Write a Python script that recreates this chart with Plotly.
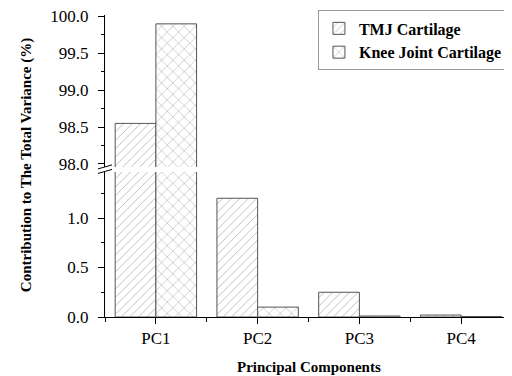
import plotly.graph_objects as go

categories = ["PC1", "PC2", "PC3", "PC4"]
tmj = [98.55, 1.2, 0.25, 0.02]
knee = [99.9, 0.1, 0.01, 0.005]
series_names = ["TMJ Cartilage", "Knee Joint Cartilage"]

xpos = list(range(len(categories)))
FONT = "Liberation Serif, Times New Roman, serif"

fig = go.Figure()

def add_bars(vals, name, shape, size, offset, yaxis, show):
    fig.add_trace(go.Bar(
        x=xpos, y=vals, name=name, width=0.4, offset=offset,
        xaxis="x", yaxis=yaxis, showlegend=show, legendgroup=name,
        marker=dict(color="white", line=dict(color="#555555", width=1),
                    pattern=dict(shape=shape, size=size, solidity=0.15,
                                 fgcolor="#707070", bgcolor="white")),
    ))

add_bars(tmj, series_names[0], "/", 6, -0.4, "y", True)
add_bars(knee, series_names[1], "x", 8, 0.0, "y", True)
add_bars(tmj, series_names[0], "/", 6, -0.4, "y2", False)
add_bars(knee, series_names[1], "x", 8, 0.0, "y2", False)

tickfont = dict(family=FONT, size=17, color="black")
common_y = dict(showgrid=False, zeroline=False, showline=True, linecolor="black",
                linewidth=1, ticks="outside", ticklen=6, tickcolor="black",
                tickfont=tickfont, tickformat=".1f", ticklabelstandoff=6,
                ticklabeloverflow="allow",
                minor=dict(ticks="outside", ticklen=3, tickcolor="black", dtick=0.25))

# the page body adds an 8px margin, so the figure is 8px smaller
fig.update_layout(
    width=504, height=368,
    margin=dict(l=97, r=0, t=7, b=59),
    paper_bgcolor="white", plot_bgcolor="white",
    barmode="overlay",
    xaxis=dict(range=[-0.5, 3.5], tickvals=xpos, ticktext=categories,
               showgrid=False, zeroline=False, showline=True, linecolor="black",
               ticks="outside", ticklen=6, tickcolor="black", tickfont=tickfont,
               anchor="y", ticklabeloverflow="allow",
               minor=dict(ticks="outside", ticklen=4, tickcolor="black",
                          tick0=0.5, dtick=1)),
    yaxis=dict(domain=[0, 0.48], range=[0, 1.465], dtick=0.5, tick0=0, **common_y),
    yaxis2=dict(domain=[0.497, 1], range=[97.96, 100.02], dtick=0.5, tick0=98,
                anchor="x", **common_y),
    legend=dict(x=0.99, y=1.015, xanchor="right", yanchor="top",
                bordercolor="#999999", borderwidth=1, bgcolor="white",
                font=dict(family=FONT, size=16, color="black", weight="bold"),
                tracegroupgap=0),
    annotations=[
        dict(text="Contribution to The Total Variance (%)", xref="paper", yref="paper",
             x=-0.194, y=0.503, xanchor="center", yanchor="middle", textangle=-90,
             showarrow=False, font=dict(family=FONT, size=15, color="black", weight="bold")),
        dict(text="Principal Components", xref="paper", yref="paper",
             x=0.5, y=-0.166, xanchor="center", yanchor="middle",
             showarrow=False, font=dict(family=FONT, size=15, color="black", weight="bold")),
    ],
)

# axis break marks
for yc in [0.482, 0.497]:
    fig.add_shape(type="line", xref="paper", yref="paper",
                  xsizemode="pixel", ysizemode="pixel", xanchor=0, yanchor=yc,
                  x0=-7, x1=7, y0=-2, y1=2, line=dict(color="black", width=1))

fig.write_html("out.html")
